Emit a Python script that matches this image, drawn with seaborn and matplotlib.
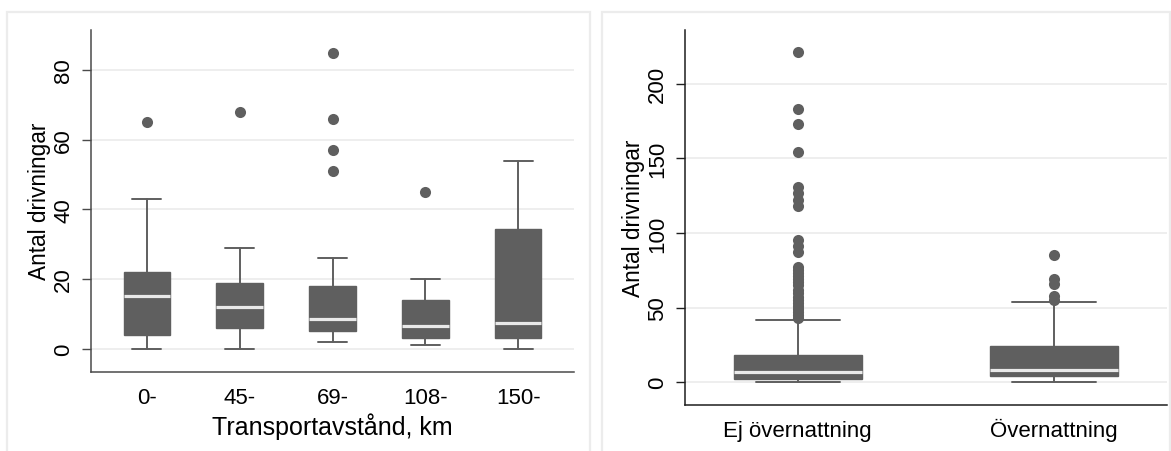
import matplotlib
matplotlib.use("Agg")
import matplotlib.pyplot as plt
import numpy as np
import pandas as pd
import seaborn as sns
from matplotlib.patches import Rectangle

# Antal drivningar per transportavståndsklass (box summaries + outliers)
dist_classes = ["0-", "45-", "69-", "108-", "150-"]
dist_whislo = [0, 0, 2, 1, 0]
dist_q1 = [4, 6, 5, 3, 3]
dist_med = [15, 12, 8.5, 6.5, 7.5]
dist_q3 = [22, 19, 18, 14, 34.5]
dist_whishi = [43, 29, 26, 20, 54]
dist_fliers = [[65], [68], [51, 57, 66, 85], [45], []]
dist_yticks = [0, 20, 40, 60, 80]

# Antal drivningar med / utan övernattning
stay_classes = ["Ej övernattning", "Övernattning"]
stay_whislo = [0, 0]
stay_q1 = [2, 4]
stay_med = [7, 8.5]
stay_q3 = [18, 24]
stay_whishi = [42, 54]
stay_fliers = [
    [43, 45, 47, 49, 51, 53, 55, 57, 60, 62, 65, 67, 69, 71, 73, 75, 77,
     87, 91, 95, 118, 122, 127, 131, 154, 173, 183, 221],
    [55, 58, 66, 69, 85],
]
stay_yticks = [0, 50, 100, 150, 200]

BOX = "#5f5f5f"
MEDIAN = "#e9e9e9"
GRID = "#ebebeb"
FRAME = "#ececec"

sns.set_theme(style="white")
plt.rcParams["font.family"] = ["Liberation Sans", "DejaVu Sans"]
plt.rcParams["text.color"] = "black"
plt.rcParams["axes.labelcolor"] = "black"

fig = plt.figure(figsize=(11.71, 4.52), dpi=100)

# Light frames around each graph region
for x0, x1 in [(7, 589.5), (602, 1169.5)]:
    fig.patches.append(Rectangle((x0 / 1171, -0.1), (x1 - x0) / 1171, 1.1 - 13.5 / 452,
                                 transform=fig.transFigure, fill=False,
                                 edgecolor=FRAME, linewidth=1.6, zorder=0))


def draw_panel(ax, classes, whislo, q1, med, q3, whishi, fliers, yticks,
               ylim, xlim, capw, spine_color, xlabel=None):
    stats = [dict(whislo=a, q1=b, med=c, q3=d, whishi=e, fliers=[], label=l)
             for a, b, c, d, e, l in zip(whislo, q1, med, q3, whishi, classes)]
    ax.bxp(stats, positions=np.arange(len(classes)), widths=0.5, capwidths=capw,
           patch_artist=True, showfliers=False, manage_ticks=False,
           boxprops=dict(facecolor=BOX, edgecolor=BOX, linewidth=1.0),
           medianprops=dict(color=MEDIAN, linewidth=2.3, solid_capstyle="butt"),
           whiskerprops=dict(color=BOX, linewidth=1.4),
           capprops=dict(color=BOX, linewidth=1.4))
    flier_df = pd.DataFrame({
        "klass": [c for c, fl in zip(classes, fliers) for _ in fl],
        "antal": [v for fl in fliers for v in fl],
    })
    sns.stripplot(data=flier_df, x="klass", y="antal", order=classes, jitter=False,
                  color=BOX, size=8, linewidth=0, ax=ax, zorder=4)
    ax.set_xlim(*xlim)
    ax.set_ylim(*ylim)
    ax.set_xticks(np.arange(len(classes)))
    ax.set_xticklabels(classes)
    ax.set_yticks(yticks)
    ax.yaxis.grid(True, color=GRID, linewidth=1.2)
    ax.xaxis.grid(False)
    ax.set_axisbelow(True)
    sns.despine(ax=ax)
    for side in ("left", "bottom"):
        ax.spines[side].set_color(spine_color)
        ax.spines[side].set_linewidth(1.1)
    ax.tick_params(axis="y", direction="out", length=6.5, width=1.0, color=spine_color,
                   labelcolor="black", labelsize=16, pad=5.5, labelrotation=90, left=True)
    for t in ax.get_yticklabels():
        t.set_va("center")
    ax.tick_params(axis="x", length=0, labelsize=16, labelcolor="black", pad=22.3)
    for t in ax.get_xticklabels():
        t.set_va("baseline")
    ax.set_ylabel("Antal drivningar", fontsize=16.3, labelpad=1.5)
    if xlabel:
        ax.set_xlabel(xlabel, fontsize=18, labelpad=3)
    else:
        ax.set_xlabel("")


ax1 = fig.add_axes([91 / 1171, 1 - 372.7 / 452, (574 - 91) / 1171, (372.7 - 30.7) / 452])
draw_panel(ax1, dist_classes, dist_whislo, dist_q1, dist_med, dist_q3, dist_whishi,
           dist_fliers, dist_yticks, (-6.6, 91.6), (-0.6, 4.6), 0.31, "#4a4a4a",
           xlabel="Transportavstånd, km")

ax2 = fig.add_axes([685 / 1171, 1 - 406 / 452, (1167 - 685) / 1171, (406 - 30.7) / 452])
draw_panel(ax2, stay_classes, stay_whislo, stay_q1, stay_med, stay_q3, stay_whishi,
           stay_fliers, stay_yticks, (-15.2, 236.2), (-0.44, 1.44), 0.33, "#1e1e1e")

fig.savefig("out.png", dpi=100, facecolor="white")
